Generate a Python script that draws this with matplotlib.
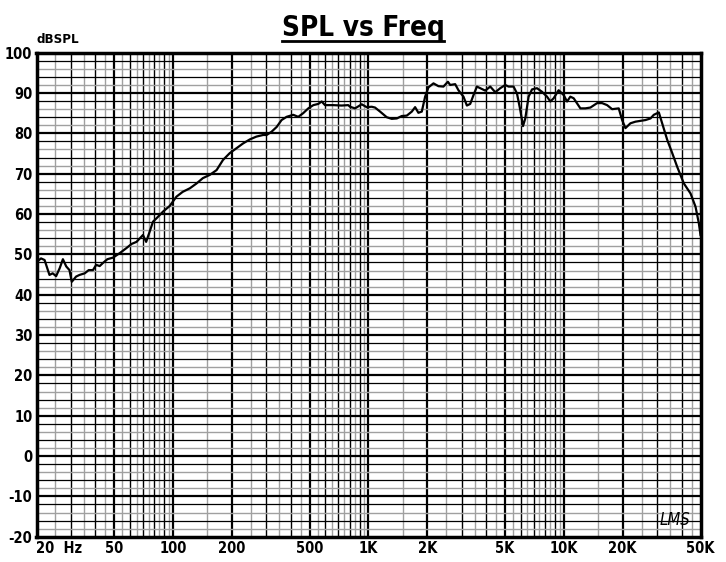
import numpy as np
import matplotlib
matplotlib.use("Agg")
import matplotlib.pyplot as plt
from matplotlib.lines import Line2D
from matplotlib import font_manager as fm

# ---- data ----
freq = [20.1, 21.1, 22.0, 23.3, 24.2, 25.2, 26.3, 27.3, 28.4, 29.5, 30.3, 31.9,
        33.2, 35.3, 37.0, 38.9, 40.4, 42.1, 43.6, 46.1, 49.3, 53.3, 57.5, 61.4,
        65.0, 70.1, 72.8, 75.6, 78.9, 82.1, 88.8, 96.1, 104, 112, 122, 132, 142,
        154, 167, 180, 195, 211, 228, 247, 267, 289, 301, 319, 339, 359, 381, 412,
        437, 463, 492, 522, 553, 576, 599, 660, 729, 788, 804, 853, 923, 979, 1039,
        1080, 1146, 1240, 1315, 1396, 1480, 1570, 1666, 1732, 1800, 1874, 1949,
        2026, 2150, 2280, 2418, 2548, 2618, 2777, 2886, 3062, 3188, 3315, 3447,
        3587, 3805, 3957, 4198, 4453, 4723, 5010, 5208, 5525, 5751, 5980, 6174,
        6344, 6596, 6866, 7282, 7726, 8196, 8522, 8860, 9397, 9970, 10376, 10788,
        11220, 12140, 12880, 13662, 14786, 15688, 16636, 17652, 19078, 19860,
        20646, 21900, 23240, 24640, 26140, 27740, 28840, 30600, 31840, 33780,
        35840, 38000, 41080, 44460, 47160, 49040, 50000]
spl = [48.2, 49.0, 48.6, 44.9, 45.3, 44.6, 46.6, 48.8, 47.0, 46.1, 43.2, 44.5,
       44.9, 45.3, 46.1, 46.1, 47.4, 47.1, 47.8, 48.8, 49.2, 50.3, 51.5, 52.6,
       53.1, 54.8, 53.1, 55.4, 58.1, 58.9, 60.6, 62.0, 64.3, 65.5, 66.4, 67.6, 68.9,
       69.7, 70.9, 73.4, 75.1, 76.3, 77.5, 78.5, 79.2, 79.6, 79.6, 80.4, 81.6, 83.3,
       84.1, 84.6, 84.1, 85.0, 86.2, 87.0, 87.3, 87.9, 87.0, 87.0, 86.9, 87.0,
       86.6, 86.2, 87.2, 86.5, 86.6, 86.4, 85.4, 84.0, 83.6, 83.7, 84.3, 84.4,
       85.4, 86.5, 85.1, 85.4, 89.1, 91.4, 92.4, 91.7, 91.6, 92.8, 92.0, 92.2,
       90.7, 89.1, 86.9, 87.3, 89.5, 91.6, 91.0, 90.6, 91.6, 90.2, 91.2, 92.0,
       91.6, 91.6, 89.9, 85.8, 81.8, 83.7, 89.1, 90.9, 91.2, 90.3, 89.1, 87.9,
       88.7, 90.7, 89.5, 87.9, 89.1, 88.7, 86.2, 86.2, 86.4, 87.5, 87.5, 87.0,
       86.0, 86.2, 83.3, 81.3, 82.5, 82.9, 83.1, 83.3, 83.7, 84.6, 85.2, 82.5,
       78.4, 75.1, 71.7, 67.6, 65.1, 61.8, 57.7, 54.8]

x_ticks = [20, 50, 100, 200, 500, 1000, 2000, 5000, 10000, 20000, 50000]
x_labels = ["20  Hz", "50", "100", "200", "500", "1K", "2K", "5K", "10K", "20K", "50K"]
y_ticks = list(range(-20, 101, 10))
title = "SPL vs Freq"
y_unit = "dBSPL"

names = {f.name for f in fm.fontManager.ttflist}
cond = 'DejaVu Sans Condensed' if 'DejaVu Sans Condensed' in names else 'DejaVu Sans'
FONT = [cond, 'DejaVu Sans']
plt.rcParams['font.family'] = FONT
plt.rcParams['font.stretch'] = 'condensed'

fig = plt.figure(figsize=(7.26, 5.62), dpi=100)
ax = fig.add_axes([36.5 / 726, (562 - 536.7) / 562, 664 / 726, 484 / 562])
ax.set_xscale('log')
ax.set_xlim(20, 50000)
ax.set_ylim(-20, 100)

# vertical grid
for dec in [10, 100, 1000, 10000]:
    for k in np.arange(1.0, 10.0, 0.5):
        f = k * dec
        if f <= 20 or f >= 50000:
            continue
        if k == int(k):
            lw = 1.6 if f in x_ticks else 1.0
            ax.axvline(f, color='black', lw=lw, zorder=1)
        else:
            ax.axvline(f, color='#a0a0a0', lw=1.0, zorder=1)

# horizontal grid
for v in range(-20, 101, 2):
    if v in (-20, 100):
        continue
    r = v % 10
    if r == 0:
        ax.axhline(v, color='black', lw=1.6, zorder=1)
    elif r in (4, 8):
        ax.axhline(v, color='black', lw=0.9, zorder=1)
    else:
        ax.axhline(v, color='#a0a0a0', lw=1.0, zorder=1)

ax.plot(freq, spl, color='black', lw=1.6, zorder=3, solid_joinstyle='round')

for s in ax.spines.values():
    s.set_linewidth(2.5)
    s.set_zorder(4)

ax.set_xticks(x_ticks)
ax.set_xticklabels(x_labels)
ax.xaxis.set_minor_locator(matplotlib.ticker.NullLocator())
ax.set_yticks(y_ticks)
ax.set_yticklabels([str(v) for v in y_ticks])
ax.tick_params(length=0, pad=3)
for lab in ax.get_xticklabels() + ax.get_yticklabels():
    lab.set_fontsize(10.5)
    lab.set_fontweight('bold')
    lab.set_fontstretch('condensed')
ax.get_xticklabels()[0].set_horizontalalignment('left')

ax.text(0.0, 1.014, y_unit, transform=ax.transAxes, fontsize=9.5, fontweight='bold',
        ha='left', va='bottom')
ax.text(0.962, 0.035, "LMS", transform=ax.transAxes, fontsize=12, style='italic',
        ha='center', va='center', zorder=5, fontweight='light')

t = fig.text(0.5, 1 - 36 / 562, title, fontsize=20, fontweight='bold',
             ha='center', va='baseline')
fig.canvas.draw()
bb = t.get_window_extent()
y_line = 562 - 41
fig.add_artist(Line2D([bb.x0 / 726, bb.x1 / 726], [y_line / 562, y_line / 562],
                      transform=fig.transFigure, color='black', lw=2))

fig.savefig("out.png", dpi=100)
